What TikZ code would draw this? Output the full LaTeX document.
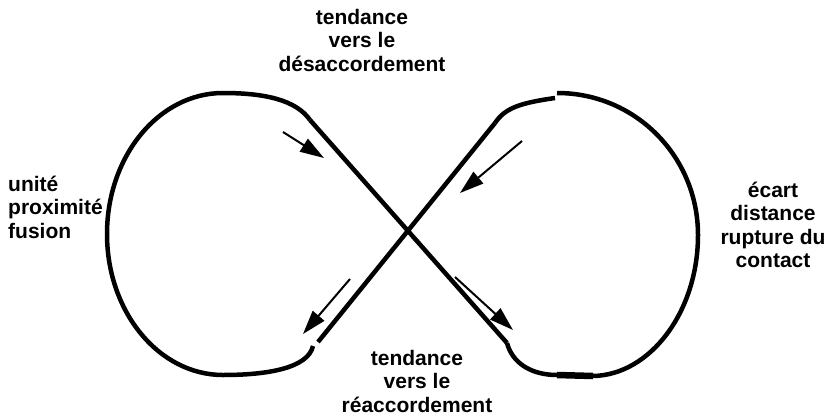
\documentclass[tikz,border=0pt]{standalone}
\usepackage{fontspec}
\setmainfont{Liberation Sans}
\usetikzlibrary{arrows.meta}
\begin{document}
\begin{tikzpicture}[x=1pt,y=-1pt,
  loopline/.style={line width=4.5pt},
  flowarrow/.style={line width=2pt,-{Triangle[length=24pt,width=15pt]}},
  txt/.style={font=\fontsize{21}{23.5}\selectfont\bfseries, inner sep=0pt}]
\useasboundingbox (0,0) rectangle (827,415);
% key points
\coordinate (LT) at (310,120);
\coordinate (LB) at (313,346);
\coordinate (DB) at (318,342);
\coordinate (RT) at (495,123);
\coordinate (RTa) at (555,98);
\coordinate (RTb) at (557,93);
\coordinate (RB) at (507,343);
\coordinate (BL) at (557,375);
\coordinate (BR) at (593,376);
% left loop
\draw[loopline] (LT) .. controls (296,100) and (265,93) .. (223,93)
  .. controls (159,93) and (107,156) .. (107,234)
  .. controls (107,312) and (159,375) .. (223,375)
  .. controls (268,375) and (308,368) .. (LB);
% diagonals
\draw[loopline] (LT) -- (RB);
\draw[loopline] (DB) -- (RT);
% right upper piece
\draw[loopline] (RT) .. controls (505,108) and (520,103) .. (RTa);
% right loop
\draw[loopline] (RTb) .. controls (636,93) and (698,157) .. (698,235)
  .. controls (698,312) and (650,375) .. (BR);
\draw[line width=6.5pt] (BL) -- (BR);
\draw[loopline] (BL) .. controls (530,375) and (512,362) .. (RB);
% arrows
\coordinate (a1s) at (283,132); \coordinate (a1e) at (324,158);
\coordinate (a2s) at (522,141); \coordinate (a2e) at (460,193);
\coordinate (a3s) at (350,279); \coordinate (a3e) at (303,334);
\coordinate (a4s) at (455,277); \coordinate (a4e) at (513,330);
\draw[flowarrow] (a1s) -- (a1e);
\draw[flowarrow] (a2s) -- (a2e);
\draw[flowarrow] (a3s) -- (a3e);
\draw[flowarrow] (a4s) -- (a4e);
% texts
\node[txt, align=center] (top) at (362,40) {tendance\\vers le\\désaccordement};
\node[txt, align=center] (bot) at (417,381) {tendance\\vers le\\réaccordement};
\node[txt, align=left, anchor=west] (left) at (8,207) {unité\\proximité\\fusion};
\node[txt, align=center] (right) at (773,225) {écart\\distance\\rupture du\\contact};
\end{tikzpicture}
\end{document}
